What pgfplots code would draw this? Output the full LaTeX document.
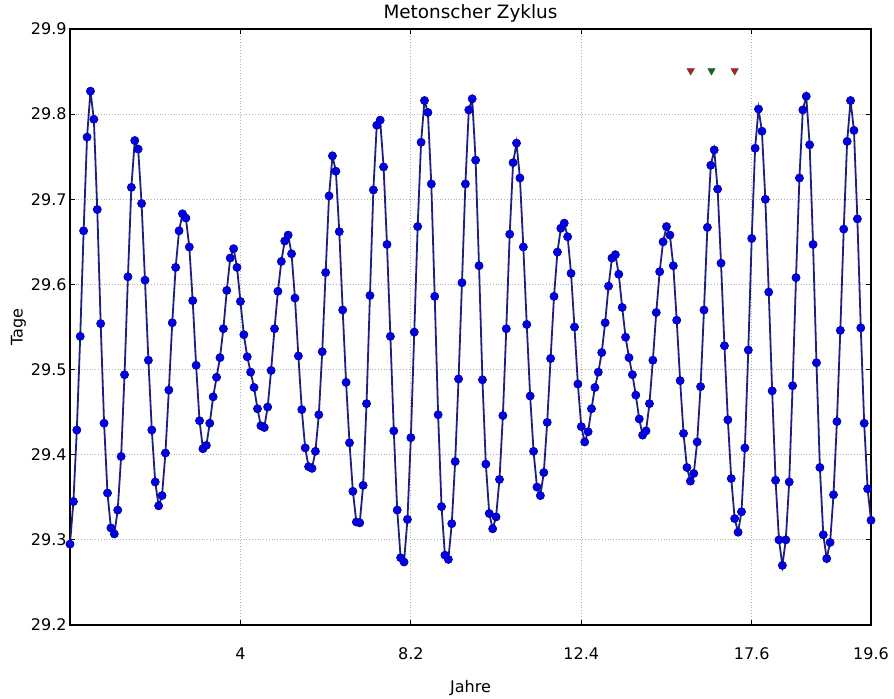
\documentclass[border=0pt]{standalone}
\usepackage{fontspec}
\setmainfont{DejaVu Sans}
\usepackage{pgfplots}
\pgfplotsset{compat=1.18}
\usepackage{pgfplotstable}

\definecolor{punkt}{rgb}{0.0,0.0,0.93}
\definecolor{linie}{rgb}{0.12,0.12,0.50}
\definecolor{rot}{rgb}{0.80,0.08,0.08}
\definecolor{gruen}{rgb}{0.0,0.45,0.0}

% Laenge der synodischen Monate (Tage), Monat 0..235
\pgfplotstableread{
n t
0 29.295
1 29.345
2 29.429
3 29.539
4 29.663
5 29.773
6 29.827
7 29.794
8 29.688
9 29.554
10 29.437
11 29.355
12 29.314
13 29.307
14 29.335
15 29.398
16 29.494
17 29.609
18 29.714
19 29.769
20 29.759
21 29.695
22 29.605
23 29.511
24 29.429
25 29.368
26 29.340
27 29.352
28 29.402
29 29.476
30 29.555
31 29.620
32 29.663
33 29.683
34 29.678
35 29.644
36 29.581
37 29.505
38 29.440
39 29.407
40 29.411
41 29.437
42 29.468
43 29.491
44 29.514
45 29.548
46 29.593
47 29.631
48 29.642
49 29.620
50 29.580
51 29.541
52 29.515
53 29.497
54 29.479
55 29.454
56 29.434
57 29.432
58 29.456
59 29.499
60 29.548
61 29.592
62 29.627
63 29.651
64 29.658
65 29.636
66 29.584
67 29.516
68 29.453
69 29.408
70 29.386
71 29.384
72 29.404
73 29.447
74 29.521
75 29.614
76 29.704
77 29.751
78 29.733
79 29.662
80 29.570
81 29.485
82 29.414
83 29.357
84 29.321
85 29.320
86 29.364
87 29.460
88 29.587
89 29.711
90 29.787
91 29.793
92 29.738
93 29.647
94 29.539
95 29.428
96 29.335
97 29.279
98 29.274
99 29.324
100 29.420
101 29.544
102 29.668
103 29.767
104 29.816
105 29.802
106 29.718
107 29.586
108 29.447
109 29.339
110 29.282
111 29.277
112 29.319
113 29.392
114 29.489
115 29.602
116 29.718
117 29.805
118 29.818
119 29.746
120 29.622
121 29.488
122 29.389
123 29.331
124 29.313
125 29.327
126 29.371
127 29.446
128 29.548
129 29.659
130 29.743
131 29.766
132 29.725
133 29.644
134 29.553
135 29.469
136 29.404
137 29.362
138 29.352
139 29.379
140 29.438
141 29.513
142 29.586
143 29.638
144 29.666
145 29.672
146 29.656
147 29.613
148 29.550
149 29.483
150 29.433
151 29.415
152 29.427
153 29.454
154 29.479
155 29.497
156 29.520
157 29.555
158 29.598
159 29.631
160 29.635
161 29.612
162 29.573
163 29.538
164 29.514
165 29.494
166 29.470
167 29.442
168 29.423
169 29.428
170 29.460
171 29.511
172 29.567
173 29.615
174 29.650
175 29.668
176 29.658
177 29.622
178 29.558
179 29.487
180 29.425
181 29.385
182 29.369
183 29.378
184 29.415
185 29.480
186 29.570
187 29.667
188 29.740
189 29.758
190 29.712
191 29.625
192 29.528
193 29.441
194 29.372
195 29.325
196 29.309
197 29.333
198 29.408
199 29.523
200 29.654
201 29.760
202 29.806
203 29.780
204 29.700
205 29.591
206 29.475
207 29.370
208 29.300
209 29.270
210 29.300
211 29.368
212 29.481
213 29.608
214 29.725
215 29.805
216 29.821
217 29.764
218 29.647
219 29.508
220 29.385
221 29.306
222 29.278
223 29.297
224 29.353
225 29.439
226 29.546
227 29.665
228 29.768
229 29.816
230 29.781
231 29.677
232 29.549
233 29.437
234 29.360
235 29.323
}\monate

\begin{document}
\begin{tikzpicture}
  \useasboundingbox (-35pt,-36.5pt) rectangle (412pt,312.5pt);
  \begin{axis}[
      at={(0,0)}, anchor=south west,
      scale only axis,
      width=400.5pt, height=298pt,
      xmin=0, xmax=235,
      ymin=29.2, ymax=29.9,
      xtick={50,100,150,200,235},
      xticklabels={4,8.2,12.4,17.6,19.6},
      ytick={29.2,29.3,29.4,29.5,29.6,29.7,29.8,29.9},
      yticklabel style={xshift=-1.5pt, /pgf/number format/.cd, fixed, fixed zerofill, precision=1},
      /pgf/number format/assume math mode=true,
      tick label style={font=\fontsize{8}{10}\selectfont, inner sep=0pt},
      xticklabel style={yshift=-11pt},
      grid=major,
      grid style={densely dotted, black!30, line width=0.5pt},
      tick align=inside,
      major tick length=2.5pt,
      tick style={black, line width=0.5pt},
      axis line style={line width=0.7pt},
      title={Metonscher Zyklus},
      every axis title shift=0pt,
      title style={font=\fontsize{9.2}{11}\selectfont, at={(axis description cs:0.5,1.026)}, anchor=center},
      xlabel={Jahre},
      ylabel={Tage},
      label style={font=\fontsize{8}{10}\selectfont},
      xlabel style={at={(axis description cs:0.5,-0.106)}, anchor=center},
      ylabel style={at={(axis description cs:-0.0643,0.5)}, anchor=center},
    ]

    \addplot[
      color=linie,
      line width=0.9pt,
      mark=*,
      mark size=2.05pt,
      mark options={fill=punkt, draw=punkt!60!black, line width=0.3pt},
    ] table[x=n, y=t] {\monate};

    % Markierungen oben rechts
    \addplot[only marks, mark=triangle*, mark size=2.1pt,
      mark options={rotate=180, fill=rot, draw=black!70, line width=0.3pt}]
      coordinates {(182.1,29.851) (195.0,29.851)};
    \addplot[only marks, mark=triangle*, mark size=2.1pt,
      mark options={rotate=180, fill=gruen, draw=black!70, line width=0.3pt}]
      coordinates {(188.2,29.851)};

  \end{axis}
\end{tikzpicture}
\end{document}
